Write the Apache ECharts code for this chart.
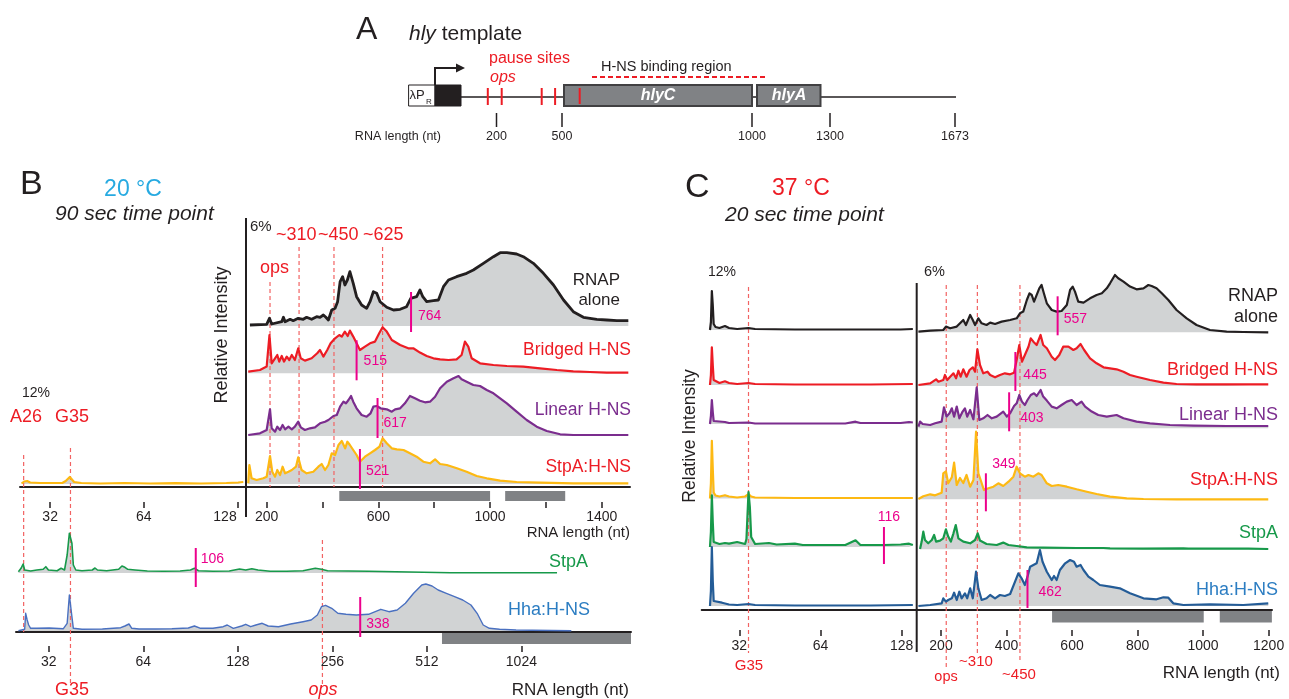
<!DOCTYPE html>
<html>
<head>
<meta charset="utf-8">
<title>hly transcription with H-NS / StpA</title>
<script src="https://cdn.jsdelivr.net/npm/echarts@6/dist/echarts.min.js"></script>
<style>
  html, body { margin: 0; padding: 0; background: #fff; }
  #chart { width: 1289px; height: 699px; }
</style>
</head>
<body>
<div id="chart"></div>
<script>
// ---------- data: [RNA length (nt), relative intensity (a.u.)] ----------

// Panel B, 20 °C, 90 s, long products (linear axis)
const bRnapAlone = [[140,1],[200,1.7],[210,7.7],[218,2],[254,4.3],[260,8.7],[266,4.3],[284,6.7],[290,8.7],[295,5.3],[313,7.7],[331,6.7],[343,8.7],[361,6.7],[379,9.3],[391,8.7],[403,11],[412,8.7],[421,6],[433,16],[445,17.7],[454,24.3],[463,44.3],[472,49.3],[480,41],[489,46],[498,54.3],[510,42.7],[522,29.3],[540,21],[558,17.7],[570,24.3],[582,34.3],[594,32.7],[606,24.3],[630,18.7],[654,16],[678,16.7],[701,19.3],[716,27.7],[737,29.3],[749,36],[759,29.3],[773,24.3],[797,25.3],[815,26],[833,39.3],[851,46],[880,49.3],[916,52.7],[940,56],[976,62.7],[1012,69.3],[1036,73.3],[1060,73.3],[1095,72],[1119,69.3],[1155,62.7],[1191,52.7],[1227,41],[1263,26],[1298,14.3],[1334,8.7],[1382,6.7],[1418,6],[1454,5.3],[1495,5.3]];
const bBridged = [[134,1.7],[176,3.3],[200,6.7],[210,38.3],[218,10],[230,15],[238,18.3],[245,11.7],[254,17.3],[262,11.7],[272,16.7],[281,13.3],[290,18.3],[301,13.3],[313,25],[322,15],[337,12.7],[361,15],[381,20],[391,23.3],[403,16.7],[417,23.3],[429,30],[445,35],[460,38.3],[469,36.7],[480,41.7],[490,37.3],[498,42.7],[510,36.7],[522,30],[534,23.3],[552,26.7],[570,30],[588,31.7],[603,40],[615,46],[630,41.7],[648,33.3],[678,28.3],[707,25],[725,25],[749,20.7],[773,17.3],[797,15],[821,14],[851,13.3],[880,14],[898,18.3],[910,31.7],[922,26.7],[934,15],[964,10],[1012,8.3],[1060,7.3],[1119,6.7],[1179,5],[1239,3.3],[1298,2],[1358,1.3],[1418,0.7],[1495,0.7]];
const bLinear = [[134,1],[176,2.7],[200,6],[212,26.7],[218,7.7],[230,4.3],[238,9.3],[248,6],[257,11],[266,6.7],[278,9.3],[290,6.7],[301,9.3],[313,14.3],[322,8.7],[337,6],[355,7.7],[373,8.7],[391,12.7],[409,14.3],[421,16],[439,20],[451,21],[463,29.3],[475,34.3],[484,32.7],[493,36],[502,40],[510,34.3],[522,27.7],[540,21],[558,19.3],[572,22.7],[582,29.3],[594,30],[608,27.7],[630,26.7],[648,24.3],[660,26.7],[678,27.7],[695,32.7],[713,40],[731,37.7],[749,35.3],[767,33.7],[785,34.3],[803,39.3],[821,47.7],[845,54.3],[869,57.7],[887,60],[898,56.7],[916,54.3],[940,51],[964,50],[988,46],[1012,42.7],[1036,37.7],[1060,32.7],[1095,24.3],[1131,16],[1167,9.3],[1203,5],[1251,1.7],[1298,1],[1370,1],[1495,1]];
const bStpaHns = [[134,0.7],[138,19],[146,5.7],[164,4],[188,5.7],[200,7.3],[212,28],[220,12.3],[230,7.3],[238,14],[248,9],[257,17.3],[266,10.7],[278,12.3],[290,14],[305,17.3],[313,26.7],[325,14],[343,10.7],[367,12.3],[385,17.3],[397,20],[409,14],[421,19],[433,30.7],[445,29],[457,39],[469,43],[481,35.7],[489,42.3],[498,39],[510,34],[522,29],[534,22.3],[552,27.3],[570,30.7],[588,34],[604,37.3],[615,45.7],[630,40.7],[648,35.7],[666,34.7],[690,34],[713,30.7],[737,27.3],[761,22.3],[785,20.7],[803,24.7],[821,20],[845,19],[881,15.7],[916,12.3],[952,8],[988,5.7],[1036,3.3],[1095,2],[1179,1.3],[1298,0.7],[1495,0.7]];
// Panel B, short products (log2 axis)
const bStpaHnsShort = [[25.9,0.5],[26.4,2.5],[27.0,3],[27.6,1.5],[29.7,1],[33.2,1],[35.0,1],[35.9,3],[37.0,7],[38.2,2],[40.3,1],[46.3,0.5],[55.4,1],[67,0.5],[80.9,0.8],[97.7,0.5],[117.9,1],[128.6,1.5],[133.6,2]];
// Panel B, full gel lane (log2 axis)
const bStpa = [[25.6,1.3],[26.1,4.7],[26.5,9],[26.8,3],[28.0,2],[29.3,3],[30.7,3.7],[31.3,6.3],[31.9,3],[34.0,2.3],[35.0,4.7],[35.9,3],[36.6,18],[37.2,39.7],[37.5,41.3],[37.9,29.7],[38.3,8],[39.0,3],[40.8,2.3],[44.0,3],[44.9,5],[45.7,3],[48.9,2.3],[53.4,3.7],[54.7,7],[55.9,5.7],[57.1,3.7],[60.2,3],[65.9,2],[74.3,1.7],[83.8,2],[90.4,3],[93.1,4.7],[95.9,2.3],[106.6,1.7],[120.2,2],[129.6,4],[135.6,3],[141.8,4.3],[148.4,3],[162.3,1.7],[183.1,1.7],[206.4,2.3],[225.9,4.7],[236.3,3.7],[247.2,2.3],[287.3,2],[333.7,1.7],[450.7,1],[608.9,0.3],[821.7,0.3],[1330,0.3]];
const bHha = [[25.6,0.3],[26.8,1.7],[27.0,17.7],[27.3,11],[27.6,6],[28.0,2.7],[29.3,2.7],[32.1,3],[35.6,2.3],[36.6,7.7],[37.2,36],[37.5,34],[37.9,14.3],[38.3,2.7],[40.8,1.7],[47.4,2],[54.2,3.3],[55.9,5],[57.6,7],[58.8,2.7],[62.0,2],[70.0,2],[78.9,2.3],[89.0,3],[93.1,5],[97.4,2.7],[106.6,2.7],[114.9,4.3],[118.4,6],[123.8,2.7],[131.6,5],[135.6,6.7],[140.6,4.3],[146.1,6],[153.0,7.7],[159.9,5],[172.4,4.3],[188.5,7],[206.4,9.3],[219.1,11],[229.3,16],[236.3,24.3],[243.6,25.7],[254.8,22.7],[266.5,17.7],[282.9,16.7],[305.0,16],[333.7,16.7],[365.2,21.7],[387.7,19.3],[411.7,21],[437.3,27.7],[464.5,37.7],[493.2,46],[508.2,47],[531.7,45],[556.2,41],[590.8,37.7],[627.3,34.3],[666.1,31],[707.3,26],[740.2,17.7],[774.0,6],[809.7,2.7],[872.7,1.7],[984.8,1],[1110,0.7],[1477,0.3]];

// Panel C, 37 °C, 20 s, short products (log2 axis)
const cRnapShort = [[24.9,0],[25.1,8],[25.3,39],[25.5,25],[25.7,6],[26.1,3],[27.0,2],[28.3,4],[29.3,2],[31.4,1],[34.6,2],[36.6,1],[51.4,0.5],[86.3,0.5],[126.9,0.5],[140.8,1]];
const cBridgedShort = [[24.9,0],[25.1,10],[25.3,37.7],[25.5,20],[25.7,5],[26.1,3],[27.0,2],[28.3,3.7],[29.3,2],[31.4,1],[34.6,2],[36.6,1],[51.4,0.5],[98.1,0.5],[140.8,1]];
const cLinearShort = [[24.9,0],[25.1,8],[25.3,24],[25.5,12],[25.7,3],[26.1,2],[28.3,2],[29.3,1],[34.6,1.5],[36.6,0.5],[79.1,0.5],[86.3,2.3],[90,1],[110,1],[126.9,1],[136.3,2],[140.8,1.5]];
const cStpaHnsShort = [[24.9,0],[25.1,15],[25.3,57.7],[25.5,30],[25.7,6],[26.1,3],[27.0,2],[28.3,3.3],[29.3,2],[31.4,1],[33.6,2],[34.6,4.3],[35.4,2],[36.6,1],[51.4,0.5],[98.1,0.5],[140.8,0.5]];
const cStpaShort = [[24.9,0],[25.1,15],[25.3,51.7],[25.5,25],[25.7,5],[26.1,3],[27.0,3],[28.3,4],[29.3,3.3],[31.4,5],[33.6,3],[34.0,8],[34.6,55],[35.0,40],[35.4,10],[36.6,3],[41.2,4],[44,2.5],[51.4,3.3],[55,2],[63.4,2],[79.1,2],[86.3,6.7],[90,2],[98.1,2],[109.8,2],[126.9,2.5],[136.3,3.3],[140.8,2]];
const cHhaShort = [[24.9,0],[25.1,15],[25.3,59],[25.5,25],[25.7,5],[26.1,3],[27.6,3.3],[29.3,1.5],[31.4,1],[34.6,2],[36.6,1],[51.4,0.5],[98.1,0.5],[140.8,1]];
// Panel C, long products (linear axis)
const cRnapAlone = [[131,0.7],[167,1.7],[207,2.3],[215,5.7],[228,4],[248,5.7],[258,9],[268,12.3],[276,7.3],[289,17.3],[297,12.3],[304,7.3],[314,14],[324,9],[339,7.3],[350,9.7],[365,8.3],[385,10.7],[411,12.3],[431,14],[441,19],[451,20.7],[462,32.3],[470,39],[477,37.3],[484,30.7],[490,32.3],[500,44],[507,47.3],[514,39],[523,29],[538,22.3],[553,20.7],[568,21.3],[584,27.3],[594,42.3],[602,45.7],[609,40.7],[619,30.7],[635,29.7],[655,34],[675,37.3],[691,39],[706,44],[716,49],[731,57.3],[741,54],[757,50.7],[777,45.7],[797,43],[818,44],[833,47.3],[843,46.3],[858,44],[874,39],[894,32.3],[919,22.3],[950,14],[980,7.3],[1021,2.3],[1072,0.7],[1123,0.3],[1199,0]];
const cBridged = [[131,1],[167,2.7],[185,6.7],[192,4.3],[207,6],[212,11],[219,6],[228,9.3],[238,12.7],[246,7.7],[253,15.3],[260,9.3],[268,16.7],[278,9.3],[287,16],[297,18.7],[304,14.3],[311,36.7],[319,21],[329,12.7],[342,14.3],[350,11],[365,8.7],[380,11],[395,12.7],[411,11.7],[423,13.3],[431,26],[439,41],[447,24.3],[456,31],[467,39.3],[474,47.7],[482,44.3],[492,41],[504,51],[512,41],[523,37.7],[538,29.3],[548,26],[561,31],[573,39.3],[589,39.3],[604,36],[614,37.7],[626,42],[637,36],[655,27.7],[675,22.7],[696,18.7],[716,17.7],[736,16.7],[757,14.3],[777,11],[797,9.3],[838,6],[879,3.3],[919,2],[980,1.7],[1072,1.7],[1199,1.7]];
const cLinear = [[131,1.7],[136,6.7],[144,4.3],[167,3.3],[182,5],[202,6.7],[209,21],[217,11.7],[226,15],[233,20],[240,11.7],[248,21.7],[256,10],[266,16.7],[273,20],[280,11.7],[289,18.3],[299,9],[309,41],[317,8.3],[329,10],[342,13.3],[355,10],[370,11.7],[390,16.7],[401,11.7],[411,15],[423,22.3],[431,25],[439,33.3],[447,26.7],[456,23.3],[464,28.3],[474,33.3],[484,35],[492,32.3],[504,38.3],[512,31.7],[523,27.7],[538,21.7],[553,20],[568,23.3],[584,26.7],[599,28.3],[614,23.3],[629,26.7],[640,21.7],[660,16.7],[680,13.3],[706,11.7],[736,13.3],[757,10],[797,6.7],[838,5],[899,3.3],[970,2.7],[1072,2.3],[1199,2.3]];
const cStpaHns = [[131,0.3],[146,3],[167,5],[182,4],[202,6.6],[207,26],[215,28],[222,16],[233,22],[240,36.6],[248,14.3],[258,21.3],[268,16.3],[278,24.3],[289,12.6],[299,19.3],[307,67.6],[314,26],[321,19.3],[331,9.3],[345,11],[360,12.6],[375,16],[390,13.3],[406,17.6],[421,22.6],[431,32.6],[441,26],[456,22.6],[467,24.3],[482,22.6],[497,26],[507,24.3],[523,16],[538,13.3],[558,14.3],[584,12.6],[614,10],[645,7.6],[675,5.3],[716,2.6],[767,1],[818,0.3],[919,0],[1199,0]];
const cStpa = [[136,0.3],[141,7.7],[146,17.7],[151,9.3],[161,6],[172,9.3],[179,14.3],[185,7.7],[197,8.7],[207,11],[215,20],[222,12.7],[230,7.7],[238,16],[245,24.3],[253,11],[268,7.7],[289,6],[304,9.3],[312,16],[319,8.7],[339,5.3],[370,4.3],[390,6.7],[406,4.3],[431,3.3],[462,2],[512,1.7],[614,1.3],[696,1.3],[701,2.7],[716,1],[818,0.7],[940,1],[945,2.7],[955,0.7],[1123,0.7],[1128,2.7],[1138,0.7],[1199,0.3]];
const cHha = [[131,0],[167,1],[202,2.7],[207,7.7],[215,4.3],[222,6],[233,7.7],[240,13.3],[248,6],[256,14.3],[263,7.7],[273,12.7],[280,7.7],[289,17.7],[297,7.7],[307,34.3],[314,17.7],[324,6],[339,7.7],[350,11],[365,7.7],[380,11],[395,10],[411,12],[426,24.3],[436,32.7],[446,27.7],[456,21],[464,29.3],[472,39.3],[482,41],[492,42.7],[502,56],[510,44.3],[523,34.3],[538,26],[545,30],[553,26],[563,36],[579,42.7],[594,46],[606,44.3],[614,39.3],[626,41],[635,36],[650,29.3],[665,26],[685,21],[716,19.3],[746,17.7],[777,12.7],[818,7.7],[858,6.7],[879,8.7],[894,8.3],[909,2.7],[940,1],[1021,1.7],[1123,1],[1199,2.7]];

// median markers (where the tick sits, and the printed value)
const bMedianAt = [717, 522, 597, 534];
const bMedianText = ['764', '515', '617', '521'];
const bGelMedianAt = [94, 314];
const bGelMedianText = ['106', '338'];
const cMedianAt = [556, 427, 408, 337, 110, 464];
const cMedianText = ['557', '445', '403', '349', '116', '462'];

// pause sites / landmarks (nt)
const bPauseSites = [212, 316, 441, 615];   // ops, ~310, ~450, ~625
const bGelSites = [26.6, 37.5, 238];         // A26, G35, ops
const cShortSites = [34.6];                  // G35
const cPauseSites = [216, 311, 441];         // ops, ~310, ~450

// hlyC / hlyA spans under the axes (nt)
const bGeneSpans = [[460, 1000], [1054, 1269]];
const bGelGeneSpans = [[572, 2288]];
const cGeneSpans = [[539, 1002], [1051, 1210]];

// tick values
const shortTicks = [32, 64, 128];
const bLongTicks = [200, 400, 600, 800, 1000, 1200, 1400];
const bLongLabels = [200, 600, 1000, 1400];
const gelTicks = [32, 64, 128, 256, 512, 1024];
const cLongTicks = [200, 400, 600, 800, 1000, 1200];

// schematic (panel A)
const hlyRuler = ['200', '500', '1000', '1300', '1673'];

// ---------- styles ----------
const FONT = "'Liberation Sans', Arial, Helvetica, sans-serif";
const INK = '#231f20';
const FILL = '#d1d3d4';
const BAR = '#808285';
const MAG = '#ec008c';
const GUIDE = '#f26363';
const RED = '#ed1c24';
const PURPLE = '#7b2d8e';
const YELLOW = '#fdb913';
const GREEN = '#17994a';
const BLUE_B = '#4a70c0';
const BLUE_C = '#245c97';
const LBLUE = '#2c7dc2';
const CYAN = '#27aae1';

const SEC = {
  bShort: { l: 20, r: 246, x: { type: 'log', logBase: 2, min: 25.6, max: 136.3 } },
  bLong: { l: 246, r: 630, x: { type: 'value', min: 126, max: 1501 } },
  bGel: { l: 16, r: 631, x: { type: 'log', logBase: 2, min: 25.15, max: 2288 } },
  cShort: { l: 701.7, r: 916.7, x: { type: 'log', logBase: 2, min: 23.2, max: 145.5 } },
  cLong: { l: 916.7, r: 1272, x: { type: 'value', min: 125.8, max: 1210.4 } }
};

const grids = [], xAxes = [], yAxes = [], series = [];

function addGrid(sec, top, bottom, yCfg) {
  grids.push({ left: sec.l, top: top, width: sec.r - sec.l, height: bottom - top });
  const gridIndex = grids.length - 1;
  xAxes.push(Object.assign({ gridIndex, show: false }, sec.x));
  yAxes.push(Object.assign({ gridIndex, show: false }, yCfg));
  return { xAxisIndex: xAxes.length - 1, yAxisIndex: yAxes.length - 1 };
}

// one trace: grey fill to its own baseline, coloured line on top
function addTrace(sec, base, data, color, width) {
  const ax = addGrid(sec, base - 100, base + 20, { type: 'value', min: -20, max: 100 });
  series.push(Object.assign({ type: 'line', data, symbol: 'none', silent: true, z: 1,
    lineStyle: { opacity: 0 }, areaStyle: { color: FILL, opacity: 1 } }, ax));
  series.push(Object.assign({ type: 'line', data, symbol: 'none', silent: true, z: 3,
    lineStyle: { color, width, join: 'round' } }, ax));
  return ax;
}

function addMedian(ax, at, text, m) {
  series.push(Object.assign({ type: 'custom', data: [[at, 0]], silent: true, z: 5,
    renderItem: function (params, api) {
      const p = api.coord([api.value(0), 0]);
      return { type: 'group', children: [
        { type: 'line', shape: { x1: p[0], y1: p[1] + m.below, x2: p[0], y2: p[1] - m.above },
          style: { stroke: MAG, lineWidth: 2 } },
        { type: 'text', x: p[0] + m.dx, y: p[1] - m.dy,
          style: { text, fill: MAG, font: '14px ' + FONT, align: m.align || 'left', verticalAlign: 'middle' } }
      ] };
    } }, ax));
}

function addGuides(sec, top, bottom, values) {
  const ax = addGrid(sec, top, bottom, { type: 'value', min: 0, max: 1 });
  series.push(Object.assign({ type: 'custom', silent: true, z: 2, data: values.map(v => [v, 0]),
    renderItem: function (params, api) {
      const x = api.coord([api.value(0), 0])[0];
      const cs = params.coordSys;
      return { type: 'line', shape: { x1: x, y1: cs.y, x2: x, y2: cs.y + cs.height },
        style: { stroke: GUIDE, lineWidth: 1.2, lineDash: [4, 3] } };
    } }, ax));
}

function addGeneBars(sec, top, bottom, spans) {
  const ax = addGrid(sec, top, bottom, { type: 'value', min: 0, max: 1 });
  series.push(Object.assign({ type: 'custom', silent: true, z: 2, data: spans,
    renderItem: function (params, api) {
      const a = api.coord([api.value(0), 1]);
      const b = api.coord([api.value(1), 0]);
      return { type: 'rect', shape: { x: a[0], y: a[1], width: b[0] - a[0], height: b[1] - a[1] },
        style: { fill: BAR } };
    } }, ax));
}

// axis line at lineY, ticks + labels detached below it by `gap`
function addAxis(sec, lineY, gap, margin, ticks, labels, shift128) {
  grids.push({ left: sec.l, top: lineY - 10, width: sec.r - sec.l, height: 10 });
  const gridIndex = grids.length - 1;
  const base = Object.assign({}, sec.x, { gridIndex, position: 'bottom', splitLine: { show: false } });
  xAxes.push(Object.assign({}, base, {
    axisLine: { show: true, onZero: false, lineStyle: { color: INK, width: 2 } },
    axisTick: { show: false }, axisLabel: { show: false } }));
  xAxes.push(Object.assign({}, base, {
    offset: gap,
    axisLine: { show: false, onZero: false },
    axisTick: { show: true, customValues: ticks, length: 6, lineStyle: { color: INK, width: 1.5 } },
    axisLabel: { show: true, customValues: labels, margin, color: INK, fontSize: 14, fontFamily: FONT,
      formatter: v => (shift128 && Math.round(v) === 128) ? '{s|128}' : String(Math.round(v)),
      rich: { s: { padding: [0, 25, 0, 0], fontSize: 14, fontFamily: FONT, color: INK } } }
  }));
  yAxes.push({ gridIndex, show: false, type: 'value', min: 0, max: 1 });
}

// ---------- panel B ----------
addGuides(SEC.bLong, 247, 487, bPauseSites.slice(1));
addGuides(SEC.bLong, 282, 487, bPauseSites.slice(0, 1));
addGuides(SEC.bGel, 455, 632, bGelSites.slice(0, 1));
addGuides(SEC.bGel, 448, 686, bGelSites.slice(1, 2));
addGuides(SEC.bGel, 540, 687, bGelSites.slice(2));

const bMarks = [
  { above: 34, below: 6, dx: 7, dy: 10 },
  { above: 33, below: 7, dx: 7, dy: 12 },
  { above: 38, below: 2, dx: 6, dy: 13 },
  { above: 35, below: 5, dx: 6, dy: 13 }
];
const bRows = [
  [326, bRnapAlone, INK, 2.8],
  [373.3, bBridged, RED, 2.2],
  [436, bLinear, PURPLE, 2.2],
  [484, bStpaHns, YELLOW, 2.2]
];
bRows.forEach((r, i) => {
  const ax = addTrace(SEC.bLong, r[0], r[1], r[2], r[3]);
  addMedian(ax, bMedianAt[i], bMedianText[i], bMarks[i]);
});
addTrace(SEC.bShort, 484, bStpaHnsShort, YELLOW, 2.2);

const gStpa = addTrace(SEC.bGel, 573, bStpa, GREEN, 1.6);
addMedian(gStpa, bGelMedianAt[0], bGelMedianText[0], { above: 25, below: 14, dx: 5, dy: 14 });
const gHha = addTrace(SEC.bGel, 631, bHha, BLUE_B, 1.4);
addMedian(gHha, bGelMedianAt[1], bGelMedianText[1], { above: 34, below: 6, dx: 6, dy: 7 });

addGeneBars(SEC.bLong, 491, 501, bGeneSpans);
addGeneBars(SEC.bGel, 633, 644, bGelGeneSpans);
addAxis(SEC.bShort, 487, 15, 8, shortTicks, shortTicks, true);
addAxis(SEC.bLong, 487, 15, 8, bLongTicks, bLongLabels, false);
addAxis(SEC.bGel, 632, 14, 9, gelTicks, gelTicks, false);

// ---------- panel C ----------
addGuides(SEC.cShort, 287, 653, cShortSites);
addGuides(SEC.cLong, 285, 668, cPauseSites.slice(0, 1));
addGuides(SEC.cLong, 285, 655, cPauseSites.slice(1, 2));
addGuides(SEC.cLong, 285, 660, cPauseSites.slice(2));

const cShortRows = [
  [330, cRnapShort, INK], [385, cBridgedShort, RED], [424, cLinearShort, PURPLE],
  [498.5, cStpaHnsShort, YELLOW], [547, cStpaShort, GREEN], [606, cHhaShort, BLUE_C]
];
const cShortAx = cShortRows.map(r => addTrace(SEC.cShort, r[0], r[1], r[2], 2.2));
addMedian(cShortAx[4], cMedianAt[4], cMedianText[4], { above: 20, below: 17, dx: 5, dy: 30, align: 'center' });

const cLongRows = [
  [332.3, cRnapAlone, INK, { above: 36, below: 3, dx: 6, dy: 13 }],
  [386, cBridged, RED, { above: 34, below: 5, dx: 8, dy: 11 }],
  [428.3, cLinear, PURPLE, { above: 36, below: 3, dx: 11, dy: 10 }],
  [499.3, cStpaHns, YELLOW, { above: 26, below: 12, dx: 18, dy: 35, align: 'center' }],
  [549.3, cStpa, GREEN, null],
  [606, cHha, BLUE_C, { above: 36, below: 2, dx: 11, dy: 14 }]
];
const cMedianIdx = [0, 1, 2, 3, -1, 5];
cLongRows.forEach((r, i) => {
  const ax = addTrace(SEC.cLong, r[0], r[1], r[2], 2.2);
  if (r[3]) addMedian(ax, cMedianAt[cMedianIdx[i]], cMedianText[cMedianIdx[i]], r[3]);
});

addGeneBars(SEC.cLong, 611, 622.5, cGeneSpans);
addAxis(SEC.cShort, 610, 20, 9, shortTicks, shortTicks, false);
addAxis(SEC.cLong, 610, 20, 9, cLongTicks, cLongTicks, false);

// ---------- text and schematic ----------
function txt(x, y, text, o) {
  o = o || {};
  const font = (o.italic ? 'italic ' : '') + (o.bold ? 'bold ' : '') + (o.size || 14) + 'px ' + FONT;
  const align = o.align || 'left';
  return { type: 'text', x, y, rotation: o.rot || 0, z: 50, silent: true,
    style: { text, font, fill: o.color || INK, align, textAlign: align,
      verticalAlign: 'middle', textVerticalAlign: 'middle', rich: o.rich } };
}
function seg(x1, y1, x2, y2, stroke, w, dash) {
  return { type: 'line', z: 40, silent: true, shape: { x1, y1, x2, y2 },
    style: { stroke, lineWidth: w, lineDash: dash || null } };
}
function box(x, y, w, h, fill, stroke, lw) {
  return { type: 'rect', z: 41, silent: true, shape: { x, y, width: w, height: h },
    style: { fill, stroke, lineWidth: lw } };
}

const rulerX = [496.5, 562, 752, 830, 955];
const graphics = [
  // panel A
  txt(356, 30, 'A', { size: 32 }),
  txt(409, 34, '{i|hly} template', { size: 21,
    rich: { i: { fontStyle: 'italic', fontSize: 21, fontFamily: FONT, fill: INK } } }),
  txt(489, 59, 'pause sites', { size: 16, color: RED }),
  txt(490, 78, 'ops', { size: 16, color: RED, italic: true }),
  txt(601, 67, 'H-NS binding region', { size: 14.5 }),
  seg(592, 77, 766, 77, RED, 2, [5, 3]),
  seg(461, 97, 956, 97, INK, 1.6),
  box(408.6, 85, 26.4, 21, '#fff', INK, 1),
  box(435, 85, 26, 21, INK, INK, 1),
  txt(409.5, 95, 'λP', { size: 13 }),
  txt(426, 101.5, 'R', { size: 8 }),
  { type: 'polyline', z: 42, silent: true, shape: { points: [[435, 85], [435, 68], [457, 68]] },
    style: { stroke: INK, lineWidth: 2, fill: null } },
  { type: 'polygon', z: 42, silent: true, shape: { points: [[456, 63.5], [465, 68], [456, 72.5]] },
    style: { fill: INK } },
  seg(487.8, 88, 487.8, 105, RED, 2), seg(501.7, 88, 501.7, 105, RED, 2),
  seg(541.7, 88, 541.7, 105, RED, 2), seg(555.1, 88, 555.1, 105, RED, 2),
  box(564, 85, 188, 21, BAR, '#414042', 2),
  box(757, 85, 63.5, 21, BAR, '#414042', 2),
  Object.assign(seg(579.7, 88, 579.7, 104, RED, 2), { z: 45 }),
  txt(658, 96, 'hlyC', { size: 16, bold: true, italic: true, color: '#fff', align: 'center' }),
  txt(789, 96, 'hlyA', { size: 16, bold: true, italic: true, color: '#fff', align: 'center' }),
  txt(441, 137, 'RNA length (nt)', { size: 12.5, align: 'right' }),

  // panel B
  txt(20, 185, 'B', { size: 34 }),
  txt(133, 190, '20 °C', { size: 23, color: CYAN, align: 'center' }),
  txt(55, 214, '90 sec time point', { size: 21, italic: true }),
  txt(250, 227, '6%', { size: 15 }),
  txt(276, 235, '~310', { size: 18, color: RED }),
  txt(318, 235, '~450', { size: 18, color: RED }),
  txt(363, 235, '~625', { size: 18, color: RED }),
  txt(260, 268, 'ops', { size: 18, color: RED }),
  txt(222, 335, 'Relative Intensity', { size: 18, align: 'center', rot: Math.PI / 2 }),
  txt(620, 280, 'RNAP', { size: 17, align: 'right' }),
  txt(620, 300, 'alone', { size: 17, align: 'right' }),
  txt(631, 350, 'Bridged H-NS', { size: 17.5, color: RED, align: 'right' }),
  txt(631, 410, 'Linear H-NS', { size: 17.5, color: PURPLE, align: 'right' }),
  txt(631, 467, 'StpA:H-NS', { size: 17.5, color: RED, align: 'right' }),
  txt(22, 393, '12%', { size: 14 }),
  txt(10, 417, 'A26', { size: 18, color: RED }),
  txt(55, 417, 'G35', { size: 18, color: RED }),
  txt(630, 533, 'RNA length (nt)', { size: 15, align: 'right' }),
  txt(588, 562, 'StpA', { size: 18, color: GREEN, align: 'right' }),
  txt(590, 610, 'Hha:H-NS', { size: 18, color: LBLUE, align: 'right' }),
  txt(72, 690, 'G35', { size: 18, color: RED, align: 'center' }),
  txt(323, 690, 'ops', { size: 18, color: RED, italic: true, align: 'center' }),
  txt(629, 690, 'RNA length (nt)', { size: 17, align: 'right' }),
  seg(246, 218, 246, 517, INK, 2),

  // panel C
  txt(685, 188, 'C', { size: 34 }),
  txt(772, 189, '37 °C', { size: 23, color: RED }),
  txt(725, 215, '20 sec time point', { size: 21, italic: true }),
  txt(708, 272, '12%', { size: 14 }),
  txt(924, 272, '6%', { size: 14.5 }),
  txt(690, 436, 'Relative Intensity', { size: 17.5, align: 'center', rot: Math.PI / 2 }),
  txt(1278, 296, 'RNAP', { size: 18, align: 'right' }),
  txt(1278, 317, 'alone', { size: 18, align: 'right' }),
  txt(1278, 370, 'Bridged H-NS', { size: 18, color: RED, align: 'right' }),
  txt(1278, 415, 'Linear H-NS', { size: 18, color: PURPLE, align: 'right' }),
  txt(1278, 480, 'StpA:H-NS', { size: 18, color: RED, align: 'right' }),
  txt(1278, 533, 'StpA', { size: 18, color: GREEN, align: 'right' }),
  txt(1278, 590, 'Hha:H-NS', { size: 18, color: LBLUE, align: 'right' }),
  txt(749, 666, 'G35', { size: 15, color: RED, align: 'center' }),
  txt(946, 677, 'ops', { size: 14.5, color: RED, align: 'center' }),
  txt(976, 662, '~310', { size: 15, color: RED, align: 'center' }),
  txt(1019, 675, '~450', { size: 15, color: RED, align: 'center' }),
  txt(1280, 673, 'RNA length (nt)', { size: 17, align: 'right' }),
  seg(916.7, 283, 916.7, 652, INK, 2)
];
rulerX.forEach((x, i) => {
  graphics.push(seg(x, 113, x, 127, INK, 1.5));
  graphics.push(txt(x, 137, hlyRuler[i], { size: 12.5, align: 'center' }));
});

const chart = echarts.init(document.getElementById('chart'));
chart.setOption({
  animation: false,
  backgroundColor: '#fff',
  grid: grids,
  xAxis: xAxes,
  yAxis: yAxes,
  series: series,
  graphic: graphics
});
window.addEventListener('resize', () => chart.resize());
</script>
</body>
</html>
